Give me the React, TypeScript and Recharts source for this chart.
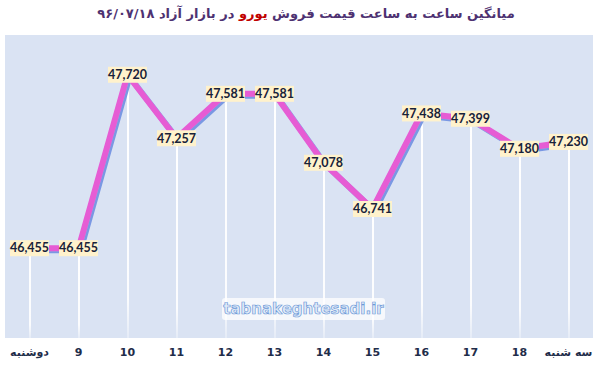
import { ComposedChart, Bar, Line, XAxis, YAxis, CartesianGrid, LabelList } from 'recharts'

const hours = ['دوشنبه', '9', '10', '11', '12', '13', '14', '15', '16', '17', '18', 'سه شنبه']
const prices = [46455, 46455, 47720, 47257, 47581, 47581, 47078, 46741, 47438, 47399, 47180, 47230]

const data = hours.map((h, i) => ({ hour: h, price: prices[i] }))

const fmt = (v: number) => v.toLocaleString('en-US')

function PriceLabel(props: any) {
  const { x, y, value } = props
  const w = 39
  const h = 16
  return (
    <g>
      <rect x={x - w / 2} y={y - h / 2} width={w} height={h} fill="#fff2cc" />
      <text
        x={x}
        y={y + 4.3}
        textAnchor="middle"
        fontFamily="Lato, 'Open Sans', sans-serif"
        fontWeight={700}
        fontSize={12.5}
        fill="#18223a"
      >
        {fmt(value)}
      </text>
    </g>
  )
}

export default function App() {
  return (
    <div style={{ position: 'absolute', left: 0, top: 0, width: 600, height: 365, background: '#fff' }}>
      <div
        dir="rtl"
        style={{
          position: 'absolute',
          top: 6,
          left: 6,
          width: 600,
          textAlign: 'center',
          fontFamily: "'DejaVu Sans', sans-serif",
          fontWeight: 700,
          fontSize: 13,
          color: '#4e3272',
        }}
      >
        میانگین ساعت به ساعت قیمت فروش <span style={{ color: '#c00000' }}>یورو</span> در بازار آزاد ۹۶/۰۷/۱۸
      </div>
      <ComposedChart width={600} height={365} data={data} margin={{ top: 35, right: 7, left: 5, bottom: 0 }}>
        <defs>
          <filter id="blueShadow" x="-10%" y="-10%" width="120%" height="120%">
            <feDropShadow dx={2} dy={2} stdDeviation={0} floodColor="#7a98e3" floodOpacity={1} />
          </filter>
          <linearGradient id="dropFade" x1="0" y1="0" x2="0" y2="1">
            <stop offset="0%" stopColor="#ffffff" stopOpacity={1} />
            <stop offset="85%" stopColor="#ffffff" stopOpacity={0.9} />
            <stop offset="100%" stopColor="#ffffff" stopOpacity={0.3} />
          </linearGradient>
        </defs>
        <CartesianGrid fill="#dae3f3" stroke="none" horizontal={false} vertical={false} />
        <XAxis
          dataKey="hour"
          height={27}
          axisLine={false}
          tickLine={false}
          interval={0}
          tick={{ fontSize: 11, fontWeight: 700, fill: '#1f2d4a', fontFamily: "'DejaVu Sans', sans-serif" }}
          tickMargin={4}
        />
        <YAxis hide domain={[45800, 48010]} />
        <Bar dataKey="price" barSize={2} fill="url(#dropFade)" isAnimationActive={false} />
        <Line
          dataKey="price"
          stroke="#e65cd4"
          strokeWidth={6}
          dot={false}
          activeDot={false}
          filter="url(#blueShadow)"
          isAnimationActive={false}
        >
          <LabelList dataKey="price" content={<PriceLabel />} />
        </Line>
      </ComposedChart>
      <div
        style={{
          position: 'absolute',
          left: 222,
          top: 298,
          width: 163,
          height: 22,
          background: 'rgba(255,255,255,0.75)',
          borderRadius: 3,
          textAlign: 'center',
          lineHeight: '22px',
          fontFamily: "'DejaVu Sans', sans-serif",
          fontWeight: 700,
          fontSize: 15,
          color: '#e3ecf8',
          WebkitTextStroke: '0.7px #6d9ad8',
        }}
      >
        tabnakeghtesadi.ir
      </div>
    </div>
  )
}
